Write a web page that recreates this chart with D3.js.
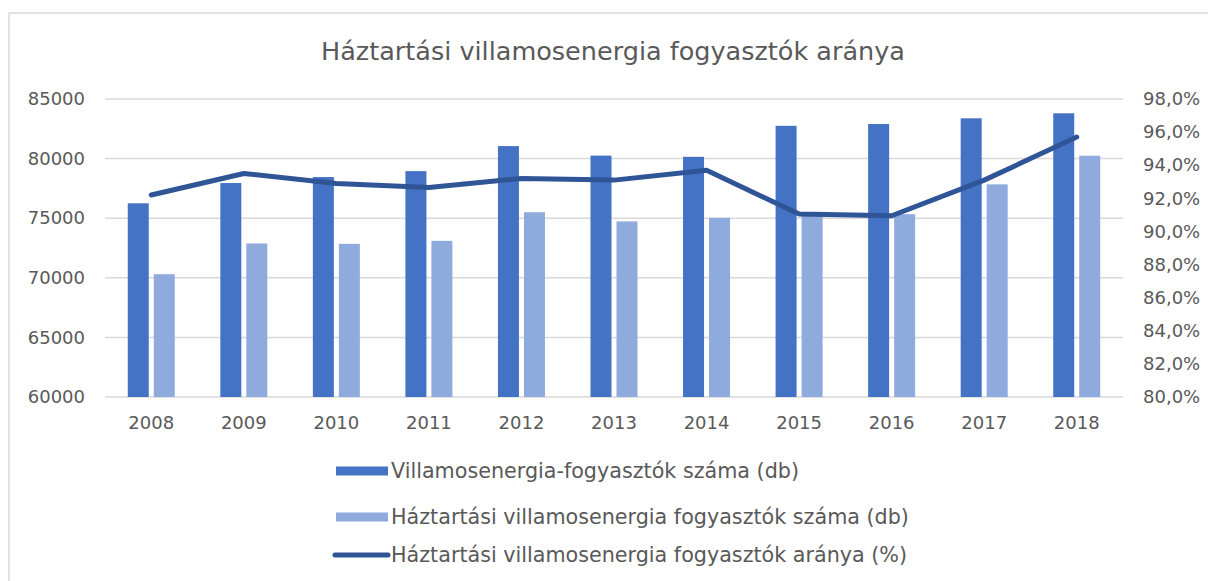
<!DOCTYPE html>
<html>
<head>
<meta charset="utf-8">
<script src="https://cdn.jsdelivr.net/npm/d3@7"></script>
<style>
  body { margin: 0; background: #fff; }
  svg text { font-family: "DejaVu Sans", sans-serif; fill: #595959; }
</style>
</head>
<body>
<div id="chart"></div>
<script>
// chart data
const years = ["2008", "2009", "2010", "2011", "2012", "2013", "2014", "2015", "2016", "2017", "2018"];
const totalConsumers = [76250, 77950, 78450, 78950, 81050, 80250, 80150, 82750, 82900, 83380, 83800];
const householdConsumers = [70300, 72880, 72850, 73100, 75500, 74730, 75030, 75200, 75340, 77840, 80240];
const householdRatio = [92.2, 93.5, 92.9, 92.65, 93.2, 93.1, 93.7, 91.05, 90.95, 93.1, 95.7];

const leftTicks = [60000, 65000, 70000, 75000, 80000, 85000];
const rightTicks = [80, 82, 84, 86, 88, 90, 92, 94, 96, 98];

const seriesNames = [
  "Villamosenergia-fogyasztók száma (db)",
  "Háztartási villamosenergia fogyasztók száma (db)",
  "Háztartási villamosenergia fogyasztók aránya (%)"
];
const chartTitle = "Háztartási villamosenergia fogyasztók aránya";

const W = 1208, H = 581;
const plot = { left: 105, right: 1123, top: 99, bottom: 397 };
const colDark = "#4472C4", colLight = "#8FAADC", colLine = "#2F5597";

const svg = d3.select("#chart").append("svg")
  .attr("width", W).attr("height", H);

// outer chart border
svg.append("rect")
  .attr("x", 9).attr("y", 13)
  .attr("width", W + 20).attr("height", H + 20)
  .attr("fill", "none").attr("stroke", "#D9D9D9").attr("stroke-width", 1.5);

// scales
const x = d3.scaleBand().domain(years).range([plot.left, plot.right]).padding(0);
const bw = 21, gap = 5;
const xSub = d3.scaleBand().domain(["total", "household"])
  .range([x.bandwidth() / 2 - bw - gap / 2, x.bandwidth() / 2 + bw + gap / 2])
  .paddingInner(gap / (bw + gap));
const yLeft = d3.scaleLinear().domain([60000, 85000]).range([plot.bottom, plot.top]);
const yRight = d3.scaleLinear().domain([80, 98]).range([plot.bottom, plot.top]);

const huLocale = d3.formatLocale({ decimal: ",", thousands: " ", grouping: [3], currency: ["", " Ft"] });
const pctFmt = v => huLocale.format(".1f")(v) + "%";

// gridlines
svg.append("g").selectAll("line")
  .data(leftTicks)
  .enter().append("line")
  .attr("x1", plot.left).attr("x2", plot.right)
  .attr("y1", d => yLeft(d)).attr("y2", d => yLeft(d))
  .attr("stroke", "#D9D9D9").attr("stroke-width", 1.5);

// left axis
const leftAxis = svg.append("g")
  .attr("transform", `translate(${plot.left - 20},0)`)
  .call(d3.axisLeft(yLeft).tickValues(leftTicks).tickSize(0).tickPadding(0).tickFormat(d3.format("d")));
leftAxis.select(".domain").remove();
leftAxis.selectAll("text").style("font-size", "18px").attr("fill", "#595959");

// right axis
const rightAxis = svg.append("g")
  .attr("transform", `translate(${plot.right + 20},0)`)
  .call(d3.axisRight(yRight).tickValues(rightTicks).tickSize(0).tickPadding(0).tickFormat(pctFmt));
rightAxis.select(".domain").remove();
rightAxis.selectAll("text").style("font-size", "18px").attr("fill", "#595959");

// bottom axis
const bottomAxis = svg.append("g")
  .attr("transform", `translate(0,${plot.bottom})`)
  .call(d3.axisBottom(x).tickSize(0).tickPadding(19));
bottomAxis.select(".domain").remove();
bottomAxis.selectAll("text").style("font-size", "18px").attr("fill", "#595959");

// bars
const groups = svg.append("g").selectAll("g")
  .data(years)
  .enter().append("g")
  .attr("transform", d => `translate(${x(d)},0)`);

groups.append("rect")
  .attr("x", xSub("total"))
  .attr("width", xSub.bandwidth())
  .attr("y", (d, i) => yLeft(totalConsumers[i]))
  .attr("height", (d, i) => yLeft(60000) - yLeft(totalConsumers[i]))
  .attr("fill", colDark);

groups.append("rect")
  .attr("x", xSub("household"))
  .attr("width", xSub.bandwidth())
  .attr("y", (d, i) => yLeft(householdConsumers[i]))
  .attr("height", (d, i) => yLeft(60000) - yLeft(householdConsumers[i]))
  .attr("fill", colLight);

// ratio line on the secondary axis
const line = d3.line()
  .x((d, i) => x(years[i]) + x.bandwidth() / 2)
  .y(d => yRight(d));

svg.append("path")
  .datum(householdRatio)
  .attr("d", line)
  .attr("fill", "none")
  .attr("stroke", colLine)
  .attr("stroke-width", 5)
  .attr("stroke-linejoin", "round")
  .attr("stroke-linecap", "round");

// title
svg.append("text")
  .attr("x", 613).attr("y", 60)
  .attr("text-anchor", "middle")
  .style("font-size", "25.5px")
  .text(chartTitle);

// legend
const legendY = [471, 517, 555];
const legend = svg.append("g");
[0, 1].forEach(i => {
  legend.append("rect")
    .attr("x", 336).attr("y", legendY[i] - 4.5)
    .attr("width", 52).attr("height", 9)
    .attr("fill", i === 0 ? colDark : colLight);
});
legend.append("line")
  .attr("x1", 335).attr("x2", 388)
  .attr("y1", legendY[2]).attr("y2", legendY[2])
  .attr("stroke", colLine).attr("stroke-width", 5).attr("stroke-linecap", "round");

seriesNames.forEach((name, i) => {
  legend.append("text")
    .attr("x", 391).attr("y", legendY[i])
    .attr("dy", "0.35em")
    .style("font-size", "20.7px")
    .text(name);
});
</script>
</body>
</html>
